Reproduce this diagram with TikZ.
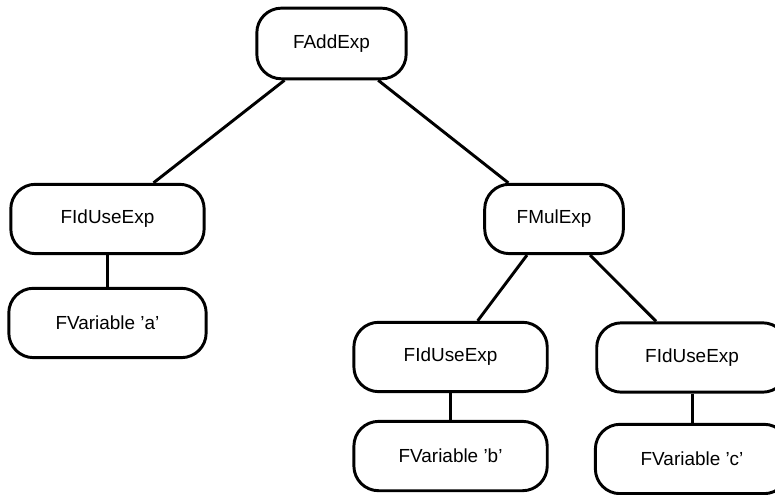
\documentclass[tikz,border=0pt]{standalone}
\usepackage{fontspec}
\setmainfont{Liberation Sans}
\usetikzlibrary{positioning}

\tikzset{
    term/.style={draw, line width=2.2pt, rounded corners=18.5pt, minimum width=145pt,
        minimum height=52pt, inner sep=0pt, font=\fontsize{14.2}{17}\selectfont},
    link/.style={line width=2.2pt}
}

\begin{document}
\begin{tikzpicture}[on grid]
    \useasboundingbox (-248.6pt,32.6pt) rectangle (332.6pt,-337.9pt);

    % Nodes
    \node[term, minimum width=112pt, minimum height=53pt] (add) {FAddExp};
    \node[term, below left=131.6pt and 168pt of add] (idA) {FIdUseExp};
    \node[term, below=78pt of idA, minimum width=148pt] (varA) {FVariable 'a'};
    \node[term, below right=131.6pt and 166.9pt of add, minimum width=104pt] (mul) {FMulExp};
    \node[term, below left=103.5pt and 77.6pt of mul] (idB) {FIdUseExp};
    \node[term, below=74.3pt of idB] (varB) {FVariable 'b'};
    \node[term, below right=103.9pt and 103.5pt of mul, minimum width=143pt] (idC) {FIdUseExp};
    \node[term, below=76.1pt of idC] (varC) {FVariable 'c'};

    % Edges
    \draw[link] (add) -- (idA);
    \draw[link] (add) -- (mul);
    \draw[link] (idA) -- (varA);
    \draw[link] (mul) -- (idB);
    \draw[link] (mul) -- (idC);
    \draw[link] (idB) -- (varB);
    \draw[link] (idC) -- (varC);
\end{tikzpicture}
\end{document}
